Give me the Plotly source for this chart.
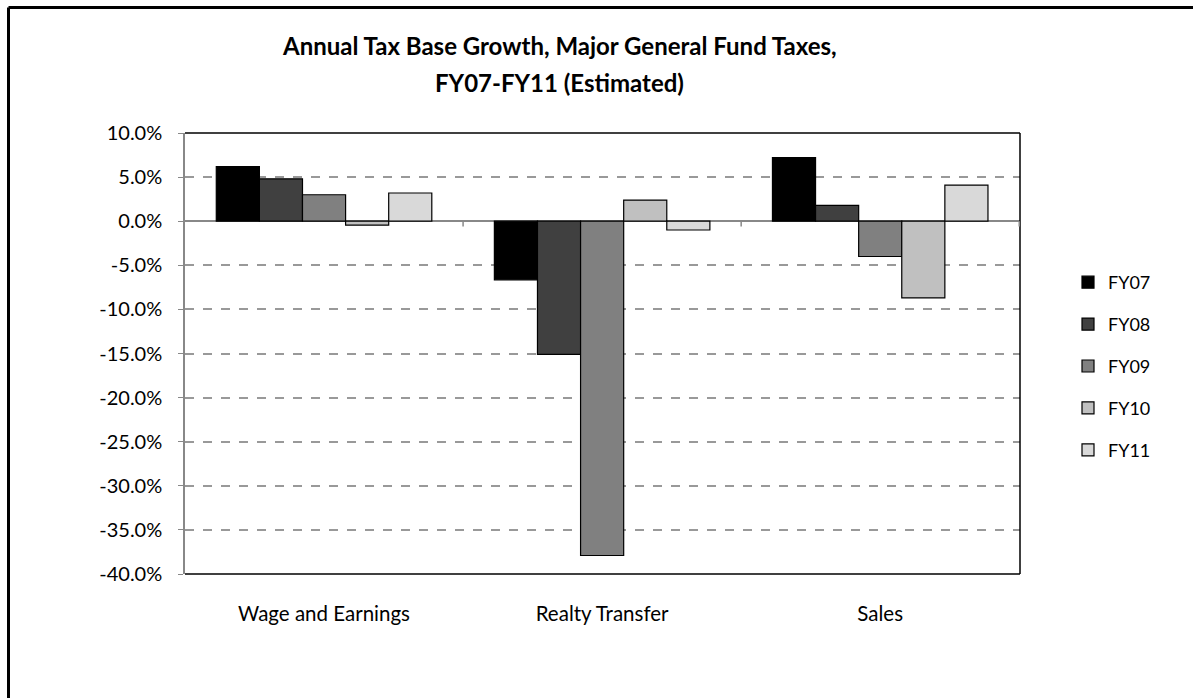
import plotly.graph_objects as go

categories = ["Wage and Earnings", "Realty Transfer", "Sales"]
series_names = ["FY07", "FY08", "FY09", "FY10", "FY11"]
fy07 = [0.062, -0.0665, 0.072]
fy08 = [0.048, -0.151, 0.018]
fy09 = [0.030, -0.379, -0.040]
fy10 = [-0.0045, 0.024, -0.087]
fy11 = [0.032, -0.010, 0.041]
series_values = [fy07, fy08, fy09, fy10, fy11]
colors = ["#000000", "#404040", "#808080", "#C0C0C0", "#D9D9D9"]
tick_vals = [0.10, 0.05, 0.0, -0.05, -0.10, -0.15, -0.20, -0.25, -0.30, -0.35, -0.40]
tick_text = ["10.0%", "5.0%", "0.0%", "-5.0%", "-10.0%", "-15.0%", "-20.0%",
             "-25.0%", "-30.0%", "-35.0%", "-40.0%"]

FONT = "Lato"

fig = go.Figure()
for name, vals, col in zip(series_names, series_values, colors):
    fig.add_trace(go.Bar(
        x=categories, y=vals, name=name, legendgroup=name,
        marker=dict(color=col, line=dict(color="#000000", width=1.2)),
    ))

# plot area pixel geometry
L, R, T, B = 185, 1020, 133, 574
W, H = 1193, 698
pw, ph = R - L, B - T

def px_x(x):
    return (x - L) / pw

def px_y(y):
    return (B - y) / ph

shapes = []
# plot box: top, right, bottom black
shapes.append(dict(type="line", xref="paper", yref="paper", x0=0, x1=1, y0=1, y1=1,
                   line=dict(color="#000000", width=1.5)))
shapes.append(dict(type="line", xref="paper", yref="paper", x0=1, x1=1, y0=0, y1=1,
                   line=dict(color="#000000", width=1.5)))
shapes.append(dict(type="line", xref="paper", yref="paper", x0=0, x1=1, y0=0, y1=0,
                   line=dict(color="#000000", width=1.5)))
# category boundary ticks on zero line
for xb in [0.5, 1.5, 2.5]:
    shapes.append(dict(type="line", xref="x", yref="y", x0=xb, x1=xb, y0=0, y1=-0.006,
                       line=dict(color="#888888", width=1.5)))
# outer chart border (top and left visible)
shapes.append(dict(type="line", xref="paper", yref="paper",
                   x0=px_x(8.5), x1=px_x(1300), y0=px_y(7.5), y1=px_y(7.5),
                   line=dict(color="#000000", width=3)))
shapes.append(dict(type="line", xref="paper", yref="paper",
                   x0=px_x(8.5), x1=px_x(8.5), y0=px_y(7.5), y1=px_y(800),
                   line=dict(color="#000000", width=3)))

annotations = [
    dict(text="<b>Annual Tax Base Growth, Major General Fund Taxes,</b>",
         xref="paper", yref="paper", x=px_x(559), y=px_y(45), showarrow=False,
         xanchor="center", yanchor="middle", font=dict(family=FONT, size=24, color="#000000")),
    dict(text="<b>FY07-FY11 (Estimated)</b>",
         xref="paper", yref="paper", x=px_x(559), y=px_y(82), showarrow=False,
         xanchor="center", yanchor="middle", font=dict(family=FONT, size=24, color="#000000")),
]

fig.update_layout(
    width=W, height=H,
    margin=dict(l=L, r=W - R, t=T, b=H - B, autoexpand=False),
    paper_bgcolor="white", plot_bgcolor="white",
    font=dict(family=FONT, size=20, color="#000000"),
    barmode="group", bargap=0.225, bargroupgap=0,
    shapes=shapes, annotations=annotations,
    legend=dict(x=px_x(1068), y=px_y(264), xanchor="left", yanchor="top",
                font=dict(family=FONT, size=18), tracegroupgap=15.5,
                bgcolor="rgba(0,0,0,0)", itemwidth=30),
    showlegend=True,
)
fig.update_xaxes(showgrid=False, showline=False, zeroline=False,
                 ticks="outside", ticklen=21, tickcolor="rgba(0,0,0,0)",
                 tickfont=dict(family=FONT, size=20.5))
fig.update_yaxes(range=[-0.40, 0.10], tickvals=tick_vals, ticktext=tick_text,
                 showgrid=True, gridcolor="#999999", griddash="dash", gridwidth=1.5,
                 zeroline=True, zerolinecolor="#888888", zerolinewidth=2,
                 showline=True, linecolor="#888888", linewidth=1.5,
                 ticks="outside", ticklen=5, tickcolor="#888888",
                 ticklabelstandoff=12,
                 tickfont=dict(family=FONT, size=20))

fig.write_html("out.html")
